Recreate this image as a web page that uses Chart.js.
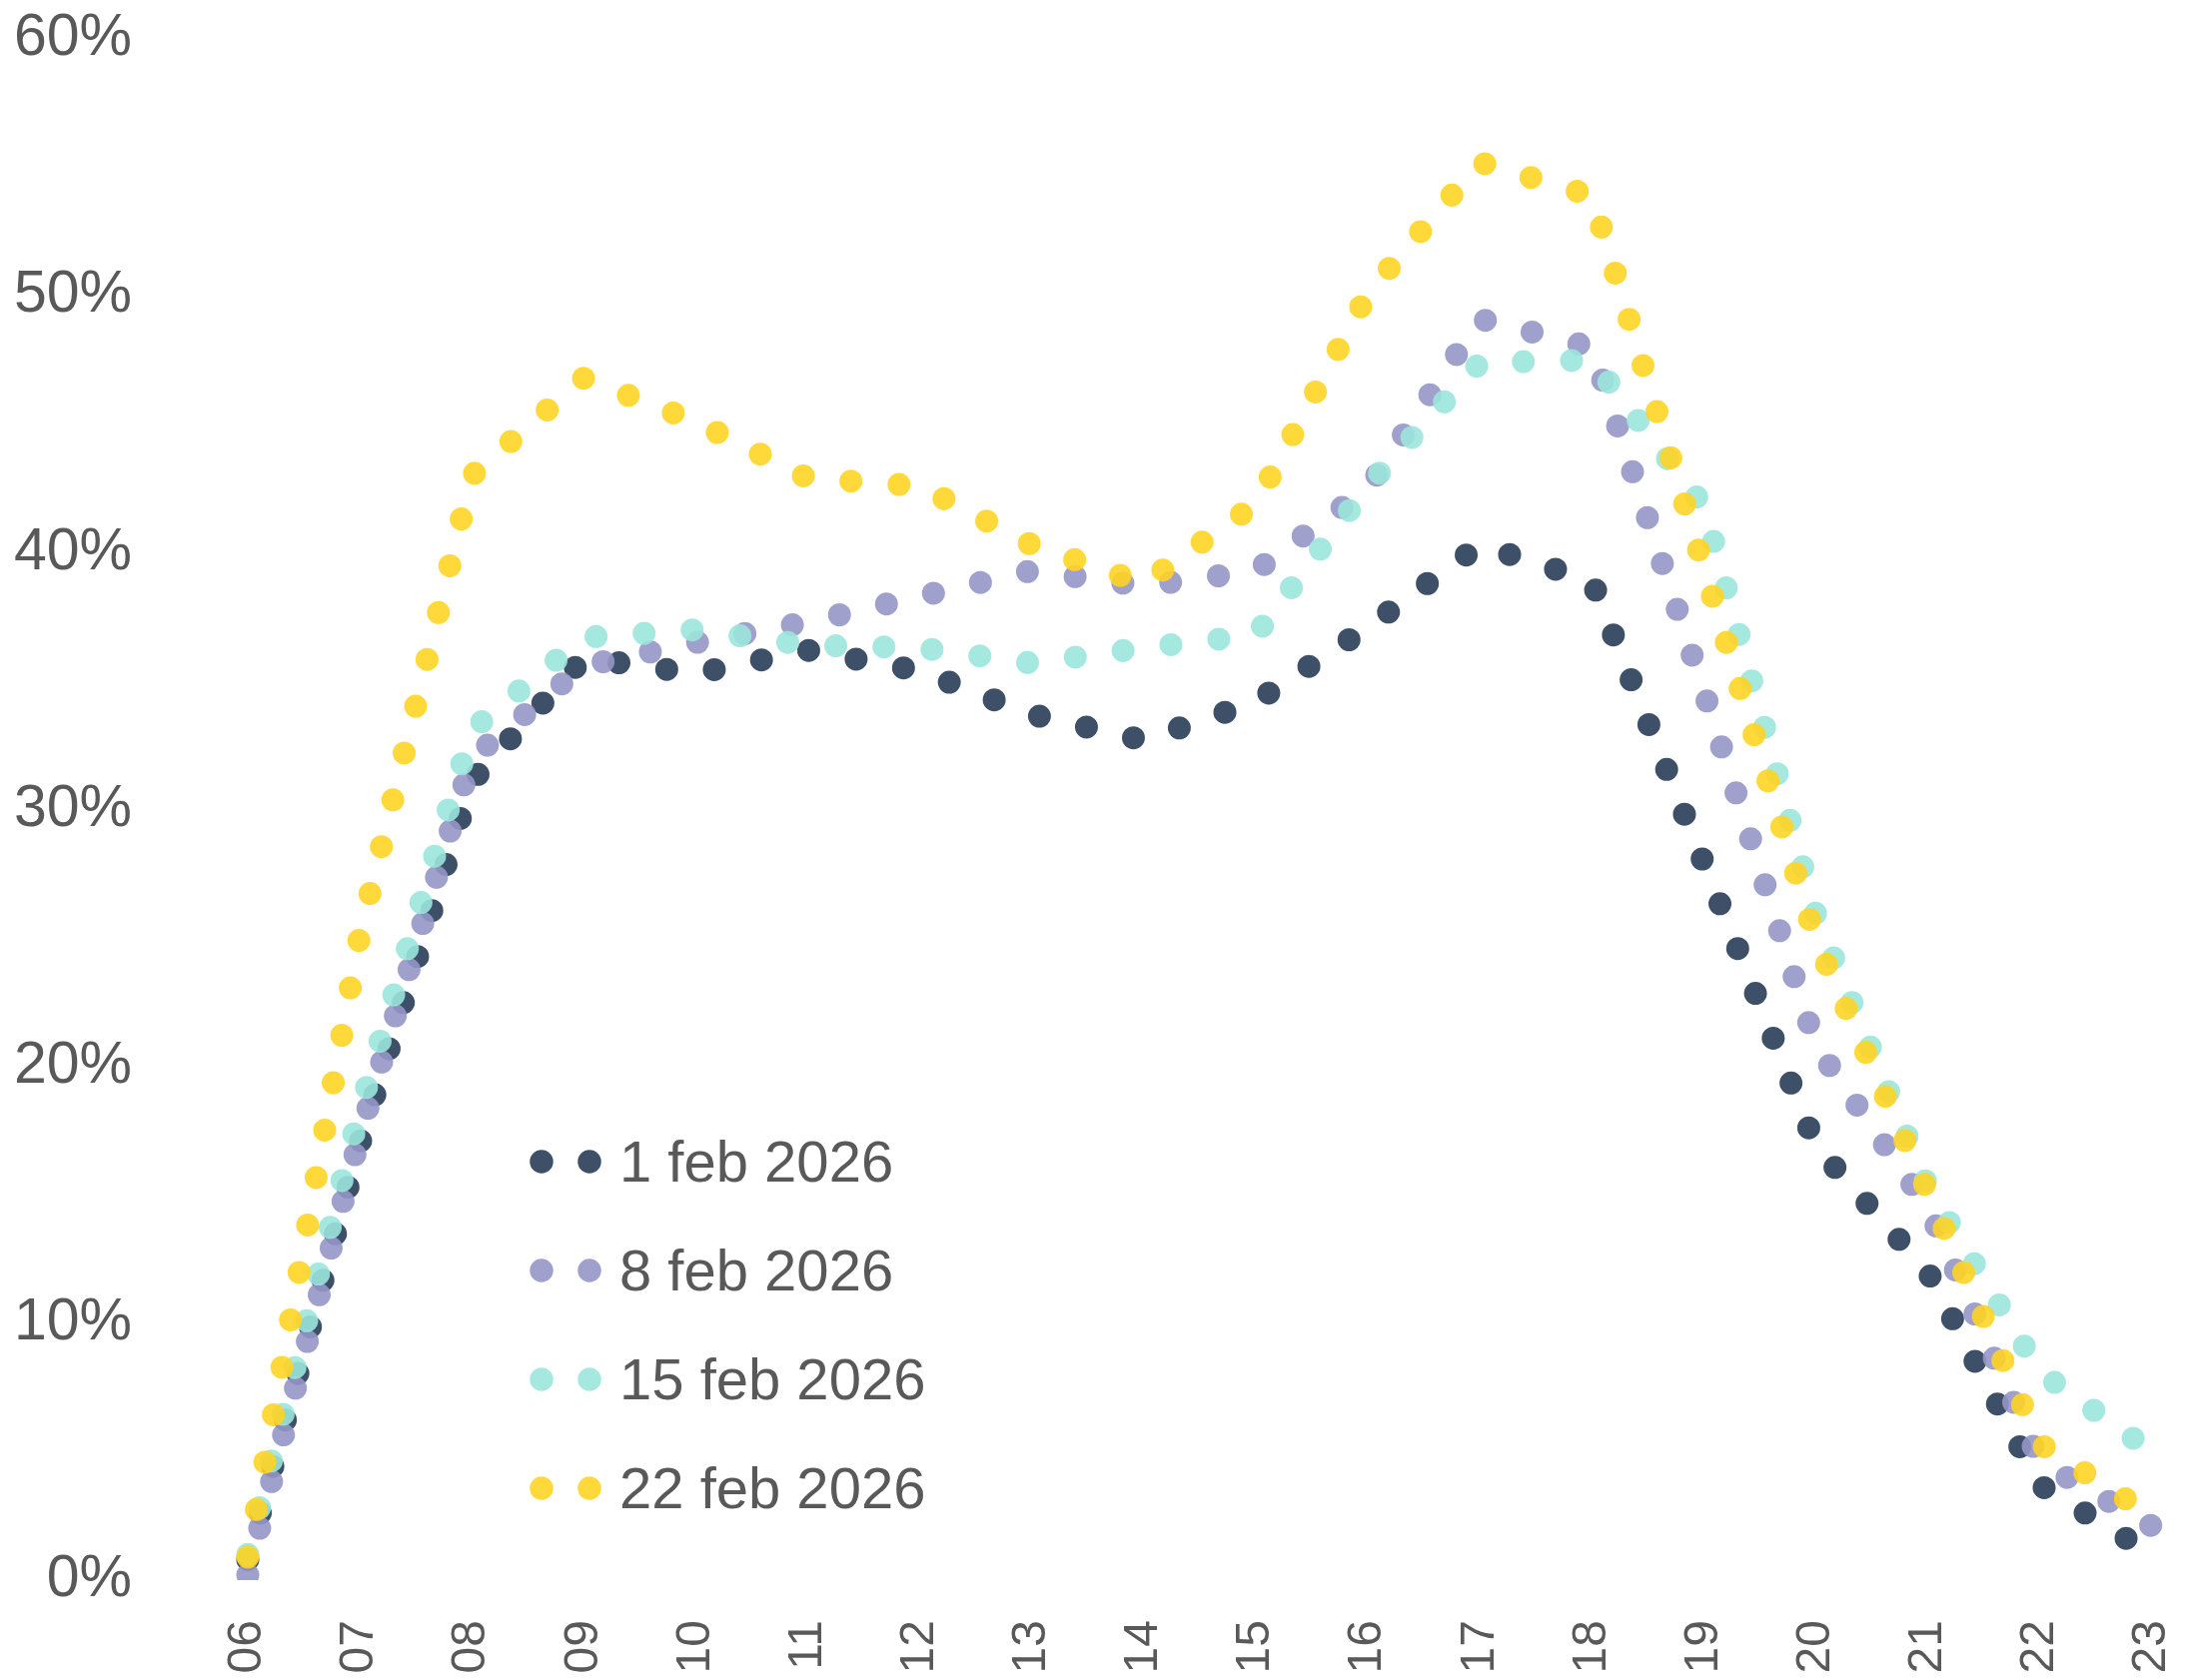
<!DOCTYPE html>
<html>
<head>
<meta charset="utf-8">
<script src="https://cdn.jsdelivr.net/npm/chart.js@4.4.1/dist/chart.umd.min.js"></script>
<style>
html,body{margin:0;padding:0;background:#ffffff;}
#wrap{width:2193px;height:1682px;position:relative;}
</style>
</head>
<body>
<div id="wrap"><canvas id="c" width="2193" height="1682"></canvas></div>
<script>
// ---- data ----
const hours = [6, 7, 8, 9, 10, 11, 12, 13, 14, 15, 16, 17, 18, 19, 20, 21, 22, 23];
const xTickLabels = ['06','07','08','09','10','11','12','13','14','15','16','17','18','19','20','21','22','23'];
const yTickLabels = ['0%','10%','20%','30%','40%','50%','60%'];
const seriesNames = ['1 feb 2026', '8 feb 2026', '15 feb 2026', '22 feb 2026'];
const feb01 = [0.8, 17.0, 31.1, 35.9, 35.3, 36.2, 35.4, 33.7, 32.7, 34.2, 37.1, 40.3, 38.9, 27.9, 16.9, 12.0, 3.7, 1.0];
const feb08 = [0.2, 17.3, 32.0, 35.6, 36.5, 37.3, 38.3, 39.3, 38.7, 39.3, 42.5, 49.1, 48.0, 34.6, 20.8, 14.5, 4.6, 2.1];
const feb15 = [1.0, 18.3, 33.1, 36.7, 37.0, 36.4, 36.3, 35.7, 36.3, 36.8, 42.6, 47.4, 47.5, 41.8, 25.9, 15.3, 8.1, 5.0];
const feb22 = [0.9, 25.1, 43.0, 46.8, 45.1, 42.9, 42.6, 40.3, 38.8, 41.9, 50.1, 55.2, 53.9, 39.4, 24.9, 15.1, 5.3, 2.5];

const seriesValues = [feb01, feb08, feb15, feb22];
const colors = ['rgba(40,61,88,0.9)', 'rgba(150,150,198,0.9)', 'rgba(155,230,220,0.9)', 'rgba(255,212,35,0.9)'];

const FONT = '"Liberation Sans", Arial, Helvetica, sans-serif';
const TEXT = '#595959';

const datasets = seriesValues.map((vals, i) => ({
  label: seriesNames[i],
  data: hours.map((h, k) => ({ x: h, y: vals[k] })),
  borderColor: colors[i],
  backgroundColor: colors[i],
  borderWidth: 23,
  borderDash: [0, 48.25],
  borderCapStyle: 'round',
  borderJoinStyle: 'round',
  pointRadius: 0,
  pointHoverRadius: 0,
  tension: 0,
  fill: false,
  order: 3 - i,
  clip: { left: 30, top: 30, right: 30, bottom: 0 }
}));

const dotLegend = {
  id: 'dotLegend',
  afterDraw(chart) {
    const ctx = chart.ctx;
    ctx.save();
    ctx.font = '58px ' + FONT;
    ctx.textBaseline = 'alphabetic';
    ctx.textAlign = 'left';
    seriesNames.forEach((name, i) => {
      const y = 1163 + i * 109;
      [542, 590].forEach(x => {
        ctx.beginPath();
        ctx.arc(x, y, 11.75, 0, Math.PI * 2);
        ctx.fillStyle = colors[i];
        ctx.fill();
      });
      ctx.fillStyle = TEXT;
      ctx.fillText(name, 620, y + 20);
    });
    ctx.restore();
  }
};

new Chart(document.getElementById('c'), {
  type: 'line',
  data: { datasets },
  options: {
    responsive: false,
    devicePixelRatio: 1,
    animation: false,
    layout: { padding: { top: 39, right: 39, bottom: 0, left: 0 } },
    plugins: { legend: { display: false }, tooltip: { enabled: false } },
    scales: {
      x: {
        type: 'linear',
        min: 6, max: 23,
        grid: { display: false },
        border: { display: false },
        afterFit(scale) {
          scale.height = 100;
          scale.paddingLeft = 0; scale.paddingRight = 0;
          scale.paddingTop = 0; scale.paddingBottom = 0;
        },
        afterBuildTicks(scale) { scale.ticks = hours.map(h => ({ value: h })); },
        ticks: {
          autoSkip: false,
          minRotation: 90, maxRotation: 90,
          padding: 32,
          color: TEXT,
          font: { family: FONT, size: 48 },
          callback: (v) => xTickLabels[hours.indexOf(v)]
        }
      },
      y: {
        min: 0, max: 60,
        grid: { display: false },
        border: { display: false },
        afterFit(scale) {
          scale.width = 248;
          scale.paddingLeft = 0; scale.paddingRight = 0;
          scale.paddingTop = 0; scale.paddingBottom = 0;
        },
        ticks: {
          stepSize: 10,
          padding: 108,
          color: TEXT,
          font: { family: FONT, size: 59 },
          callback: (v) => yTickLabels[Math.round(v / 10)]
        }
      }
    }
  },
  plugins: [dotLegend]
});
</script>
</body>
</html>
